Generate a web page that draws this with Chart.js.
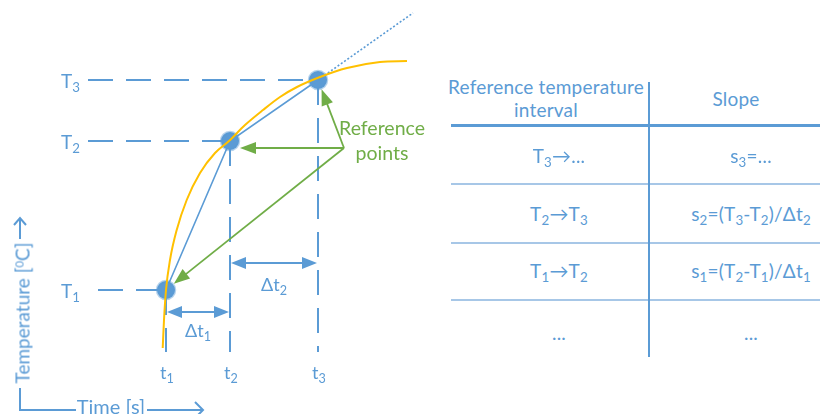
<!DOCTYPE html>
<html lang="en">
<head>
<meta charset="UTF-8">
<title>Reference points</title>
<style>
  body { margin: 0; background: #fff; }
  #wrap { position: relative; width: 820px; height: 414px; overflow: hidden;
          font-family: Lato, "Open Sans", sans-serif; color: #5B9BD5; }
  #diagram { position: absolute; left: 0; top: 0; }
  .lbl { position: absolute; white-space: nowrap; line-height: 1; }
  .lbl sub, .cell sub { font-size: 0.7em; position: relative; top: 0.3em; vertical-align: baseline; }
  .lbl sup { font-size: 0.6em; position: relative; top: -0.55em; vertical-align: baseline; }
  .cell { position: absolute; white-space: nowrap; font-size: 19px; letter-spacing: 0.2px; line-height: 23px;
          text-align: center; transform: translate(-50%, -50%); }
  .hline { position: absolute; left: 451px; width: 369px; }
  .green { color: #70AD47; }
</style>
</head>
<body>
<div id="wrap">
  <canvas id="diagram" width="440" height="414"></canvas>
</div>

<script src="https://cdn.jsdelivr.net/npm/chart.js"></script>
<script>
  // reference points (time [s], temperature [°C])
  const refTimes = [16.6, 23.0, 31.8];
  const refTemps = [12.4, 27.3, 33.4];

  // measured heating curve (orange)
  const curveTimes = [16.27, 16.4, 16.6, 17.0, 17.67, 18.67, 20.0, 21.5, 22.9, 24.5, 26.3, 28.0, 29.7, 32.0, 34.7, 38.0, 40.7];
  const curveTemps = [6.6, 9.4, 12.4, 15.4, 18.4, 21.4, 24.1, 26.1, 27.3, 28.9, 30.4, 31.7, 32.7, 33.7, 34.6, 35.2, 35.3];

  // end of the dotted extension of the last secant
  const extTimes = [41.3];
  const extTemps = [40.1];

  // table contents
  const tableHeader = ['Reference temperature<br>interval', 'Slope'];
  const intervalCol = ['T<sub>3</sub>→...', 'T<sub>2</sub>→T<sub>3</sub>', 'T<sub>1</sub>→T<sub>2</sub>', '...'];
  const slopeCol = ['s<sub>3</sub>=...', 's<sub>2</sub>=(T<sub>3</sub>-T<sub>2</sub>)/Δt<sub>2</sub>',
                    's<sub>1</sub>=(T<sub>2</sub>-T<sub>1</sub>)/Δt<sub>1</sub>', '...'];

  const BLUE = '#5B9BD5';
  const GREEN = '#70AD47';
  const ORANGE = '#FFC000';

  const guideLeft = 8.8;   // where the T dashes start
  const guideBottom = 6.2; // where the t dashes end
  const dash = [25, 13];

  const pts = refTimes.map((t, i) => ({x: t, y: refTemps[i]}));

  var datasets = [];
  datasets.push({
    label: 'curve',
    data: curveTimes.map((t, i) => ({x: t, y: curveTemps[i]})),
    showLine: true, borderColor: ORANGE, borderWidth: 2, pointRadius: 0,
    cubicInterpolationMode: 'monotone', order: 1
  });
  datasets.push({
    label: 'secant',
    data: pts,
    showLine: true, borderColor: BLUE, borderWidth: 1.6, pointRadius: 0, order: 2
  });
  datasets.push({
    label: 'extension',
    data: [pts[2], {x: extTimes[0], y: extTemps[0]}],
    showLine: true, borderColor: BLUE, borderWidth: 1.6, borderDash: [2, 2], pointRadius: 0, order: 2
  });
  datasets.push({
    label: 'points',
    data: pts,
    showLine: false, pointRadius: 9, backgroundColor: BLUE,
    borderColor: 'rgba(91,155,213,0.45)', borderWidth: 2.5, order: 5
  });
  for (var i = 0; i < pts.length; i++) {
    datasets.push({
      label: 'T guide ' + (i + 1),
      data: [{x: i == 0 ? guideLeft + 1 : guideLeft, y: pts[i].y}, pts[i]],
      showLine: true, borderColor: BLUE, borderWidth: 2, borderDash: dash, pointRadius: 0, order: 6
    });
    datasets.push({
      label: 't guide ' + (i + 1),
      data: [pts[i], {x: pts[i].x, y: guideBottom}],
      showLine: true, borderColor: BLUE, borderWidth: 2, borderDash: dash, pointRadius: 0, order: 6
    });
  }

  function arrowHead(ctx, x1, y1, x2, y2, len, w) {
    var a = Math.atan2(y2 - y1, x2 - x1);
    var bx = x2 - len * Math.cos(a), by = y2 - len * Math.sin(a);
    ctx.beginPath();
    ctx.moveTo(x2, y2);
    ctx.lineTo(bx + w / 2 * Math.sin(a), by - w / 2 * Math.cos(a));
    ctx.lineTo(bx - w / 2 * Math.sin(a), by + w / 2 * Math.cos(a));
    ctx.closePath();
    ctx.fill();
  }

  function arrow(ctx, x1, y1, x2, y2, len, w) {
    var a = Math.atan2(y2 - y1, x2 - x1);
    ctx.beginPath();
    ctx.moveTo(x1, y1);
    ctx.lineTo(x2 - (len - 1) * Math.cos(a), y2 - (len - 1) * Math.sin(a));
    ctx.stroke();
    arrowHead(ctx, x1, y1, x2, y2, len, w);
  }

  const decorations = {
    id: 'decorations',
    afterDatasetsDraw(chart) {
      const ctx = chart.ctx;
      const xs = chart.scales.x, ys = chart.scales.y;
      const px = refTimes.map(t => xs.getPixelForValue(t));
      const py = refTemps.map(T => ys.getPixelForValue(T));
      ctx.save();

      // green "reference points" arrows
      const hx = xs.getPixelForValue(34.4), hy = ys.getPixelForValue(26.6);
      ctx.strokeStyle = GREEN; ctx.fillStyle = GREEN; ctx.lineWidth = 1.8;
      for (var i = 0; i < px.length; i++) {
        var dx = px[i] - hx, dy = py[i] - hy, d = Math.hypot(dx, dy);
        var tx = px[i] - dx / d * 10, ty = py[i] - dy / d * 10;
        if (i == 1) ty = hy;
        arrow(ctx, hx, hy, tx, ty, 16, 12);
      }

      // delta t double arrows
      ctx.strokeStyle = BLUE; ctx.fillStyle = BLUE; ctx.lineWidth = 2;
      const dtY = [ys.getPixelForValue(10.2), ys.getPixelForValue(15.1)];
      for (var k = 0; k < 2; k++) {
        var a = px[k] + 1, b = px[k + 1] - 1, y = dtY[k];
        ctx.beginPath(); ctx.moveTo(a + 14, y); ctx.lineTo(b - 14, y); ctx.stroke();
        arrowHead(ctx, b, y, a, y, 15, 12);
        arrowHead(ctx, a, y, b, y, 15, 12);
      }

      // axis sketch (L shape with open arrows)
      ctx.lineWidth = 2;
      ctx.beginPath();
      ctx.moveTo(20, 388); ctx.lineTo(20, 410); ctx.lineTo(76, 410);
      ctx.moveTo(147, 410); ctx.lineTo(203, 410);
      ctx.moveTo(195, 402); ctx.lineTo(203, 410); ctx.lineTo(195, 418);
      ctx.moveTo(20, 239); ctx.lineTo(20, 218);
      ctx.moveTo(14, 225); ctx.lineTo(20, 218); ctx.lineTo(26, 225);
      ctx.stroke();
      ctx.restore();
    }
  };

  const chart = new Chart(document.getElementById('diagram'), {
    type: 'scatter',
    data: {datasets: datasets},
    options: {
      responsive: false,
      animation: false,
      events: [],
      layout: {padding: 0, autoPadding: false},
      plugins: {legend: {display: false}, tooltip: {enabled: false}},
      scales: {
        x: {type: 'linear', min: 0, max: 44, display: false},
        y: {type: 'linear', min: 0, max: 41.4, display: false}
      }
    },
    plugins: [decorations]
  });

  // text labels, placed with the chart's scales
  const wrap = document.getElementById('wrap');
  function addLabel(html, x, y, size, anchor, cls) {
    var el = document.createElement('div');
    el.className = 'lbl' + (cls ? ' ' + cls : '');
    el.innerHTML = html;
    el.style.left = x + 'px';
    el.style.top = y + 'px';
    el.style.fontSize = size + 'px';
    el.style.transform = anchor == 'left' ? 'translate(0,-50%)' : 'translate(-50%,-50%)';
    wrap.appendChild(el);
    return el;
  }
  const xs = chart.scales.x, ys = chart.scales.y;
  for (var i = 0; i < refTimes.length; i++) {
    addLabel('T<sub>' + (i + 1) + '</sub>', 61, ys.getPixelForValue(refTemps[i]) + 1, 19, 'left');
    addLabel('t<sub>' + (i + 1) + '</sub>', xs.getPixelForValue(refTimes[i]) + 1, 372, 18, 'center');
  }
  addLabel('Δt<sub>1</sub>', (xs.getPixelForValue(refTimes[0]) + xs.getPixelForValue(refTimes[1])) / 2, 330, 18, 'center');
  addLabel('Δt<sub>2</sub>', (xs.getPixelForValue(refTimes[1]) + xs.getPixelForValue(refTimes[2])) / 2, 284, 18, 'center');
  addLabel('Reference', 382, 128, 19.5, 'center', 'green');
  addLabel('points', 382, 153, 19.5, 'center', 'green');
  addLabel('Time [s]', 111, 406, 20, 'center');
  var temp = addLabel('Temperature [<sup>0</sup>C]', 22, 313, 19, 'center');
  temp.style.transform = 'translate(-50%,-50%) rotate(-90deg)';

  // table on the right
  function addCell(html, x, y) {
    var el = document.createElement('div');
    el.className = 'cell';
    el.innerHTML = html;
    el.style.left = x + 'px';
    el.style.top = y + 'px';
    wrap.appendChild(el);
  }
  function addLine(top, h, color) {
    var el = document.createElement('div');
    el.className = 'hline';
    el.style.top = top + 'px';
    el.style.height = h + 'px';
    el.style.background = color;
    wrap.appendChild(el);
  }
  addCell(tableHeader[0], 546, 98);
  addCell(tableHeader[1], 736, 98);
  addLine(124, 3, BLUE);
  const rowY = [157, 215, 272, 332];
  const rowLines = [184, 243, 300];
  for (var r = 0; r < rowY.length; r++) {
    addCell(intervalCol[r], 559, rowY[r]);
    addCell(slopeCol[r], 751, rowY[r]);
  }
  rowLines.forEach(y => addLine(y - 1, 2, '#A7C7E7'));
  var divider = document.createElement('div');
  divider.style.cssText = 'position:absolute;left:648px;top:82px;width:2px;height:275px;background:' + BLUE;
  wrap.appendChild(divider);
</script>
</body>
</html>
